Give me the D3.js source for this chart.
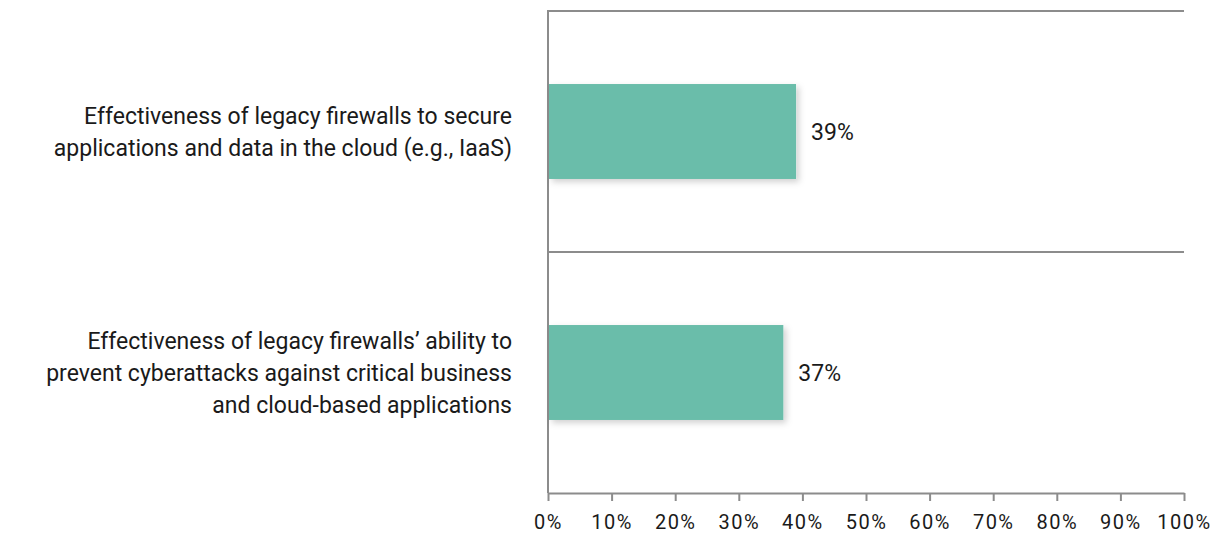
<!DOCTYPE html>
<html>
<head>
<meta charset="utf-8">
<script src="https://cdn.jsdelivr.net/npm/d3@7"></script>
<style>
  body { margin: 0; background: #fff; }
  text { font-family: Roboto, sans-serif; fill: #1a1a1a; }
</style>
</head>
<body>
<div id="chart-area"></div>
<script>
var categories = [
    ["Effectiveness of legacy firewalls to secure", "applications and data in the cloud (e.g., IaaS)"],
    ["Effectiveness of legacy firewalls\u2019 ability to", "prevent cyberattacks against critical business", "and cloud-based applications"]
];
var values = [39, 37];
var tickValues = [0, 10, 20, 30, 40, 50, 60, 70, 80, 90, 100];

var margin = {top: 11, right: 42, bottom: 41, left: 548},
    width = 1226 - margin.left - margin.right,
    height = 534 - margin.top - margin.bottom;

var svg = d3.select("#chart-area")
    .append("svg")
    .attr("width", width + margin.left + margin.right)
    .attr("height", height + margin.top + margin.bottom)
    .append("g")
    .attr("transform", "translate(" + margin.left + "," + margin.top + ")");

var defs = svg.append("defs");
var shadow = defs.append("filter").attr("id", "shadow")
    .attr("x", "-5%").attr("y", "-10%").attr("width", "115%").attr("height", "130%");
shadow.append("feDropShadow")
    .attr("dx", 3).attr("dy", 3).attr("stdDeviation", 3)
    .attr("flood-color", "#000").attr("flood-opacity", 0.18);

var xScale = d3.scaleLinear().domain([0, 100]).range([0, width]);
var yScale = d3.scaleBand()
    .domain(d3.range(categories.length))
    .range([0, height])
    .paddingInner(0.606)
    .paddingOuter(0.303);

// band separators
var seps = d3.range(categories.length).map(function(i) { return i * height / categories.length; });
svg.selectAll(".sep")
    .data(seps)
    .enter()
    .append("line")
    .attr("x1", 0)
    .attr("x2", width)
    .attr("y1", d => d)
    .attr("y2", d => d)
    .attr("stroke", "#8c8c8c")
    .attr("stroke-width", 2);

svg.append("line")
    .attr("x1", 0).attr("x2", 0)
    .attr("y1", -1).attr("y2", height)
    .attr("stroke", "#8c8c8c")
    .attr("stroke-width", 2);

var xAxis = svg.append("g")
    .attr("transform", "translate(0," + height + ")")
    .call(d3.axisBottom(xScale).tickValues(tickValues).tickSize(8).tickSizeOuter(0)
        .tickFormat(d => d + "%"));
xAxis.select(".domain").attr("stroke", "#8c8c8c").attr("stroke-width", 2);
xAxis.selectAll(".tick line").attr("stroke", "#8c8c8c").attr("stroke-width", 2);
xAxis.selectAll(".tick text")
    .attr("y", 22)
    .style("font-family", "Roboto, sans-serif")
    .style("font-size", "20px")
    .style("letter-spacing", "1.5px")
    .style("fill", "#1a1a1a");

svg.selectAll(".bar")
    .data(values)
    .enter()
    .append("rect")
    .attr("class", "bar")
    .attr("x", 1)
    .attr("y", (d, i) => yScale(i))
    .attr("width", d => xScale(d) - 1)
    .attr("height", yScale.bandwidth())
    .attr("fill", "#6bbdaa")
    .attr("filter", "url(#shadow)");

svg.selectAll(".value")
    .data(values)
    .enter()
    .append("text")
    .attr("x", d => xScale(d) + 15)
    .attr("y", (d, i) => yScale(i) + yScale.bandwidth() / 2)
    .attr("dy", "0.35em")
    .style("font-size", "23px")
    .text(d => d + "%");

categories.forEach(function(lines, i) {
    var cy = yScale(i) + yScale.bandwidth() / 2;
    var lh = 32;
    var t = svg.append("text")
        .attr("text-anchor", "end")
        .style("font-size", "23px");
    lines.forEach(function(line, j) {
        t.append("tspan")
            .attr("x", -36)
            .attr("y", cy + (j - (lines.length - 1) / 2) * lh)
            .attr("dy", "0.35em")
            .text(line);
    });
});
</script>
</body>
</html>
